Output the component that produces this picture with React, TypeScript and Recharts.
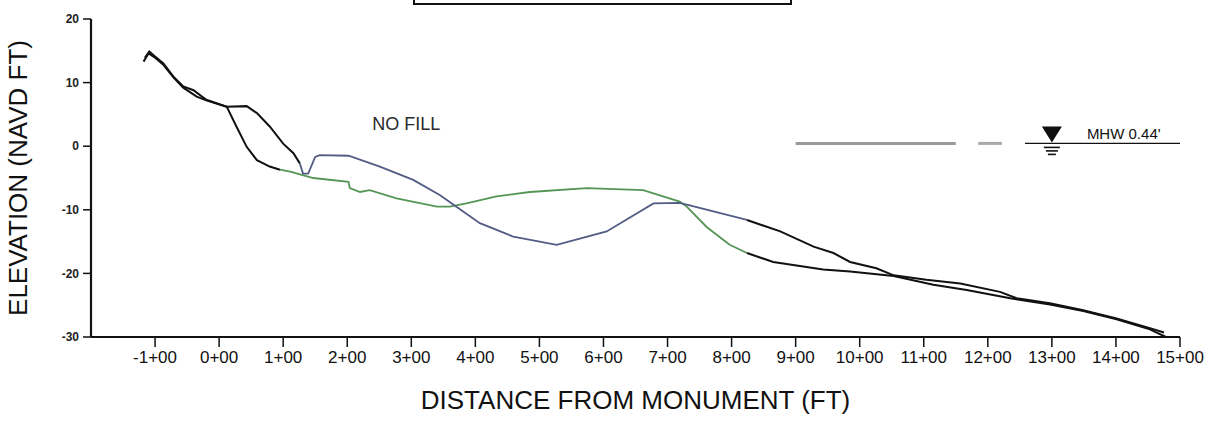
import { LineChart, Line, XAxis, YAxis, ReferenceDot, Label } from "recharts";

const X_TICKS = [-100, 0, 100, 200, 300, 400, 500, 600, 700, 800, 900, 1000, 1100, 1200, 1300, 1400, 1500];
const Y_TICKS = [-30, -20, -10, 0, 10, 20];

// profile A: takes the low route past 1+00, green through the middle
const A_DIST = [-118, -110, -100, -87, -71, -56, -35, -20, 12, 27, 43, 59, 79, 95, 111, 147, 202, 204, 220, 235, 277, 340, 360, 386, 433, 485, 574, 662, 719, 730, 761, 797, 824, 865, 943, 985, 1053, 1115, 1167, 1235, 1297, 1349, 1401, 1453, 1478];
const A_ELEV = [13.3, 14.6, 13.9, 12.8, 10.8, 9.2, 7.8, 7.2, 6.2, 3.1, -0.1, -2.2, -3.2, -3.7, -4.0, -5.0, -5.6, -6.6, -7.2, -6.9, -8.2, -9.5, -9.5, -9.0, -7.9, -7.2, -6.6, -6.9, -8.7, -9.5, -12.7, -15.5, -16.8, -18.2, -19.4, -19.7, -20.4, -21.8, -22.6, -23.9, -24.9, -25.9, -27.2, -28.8, -30.0];

// profile B: stays high to 0+40, dips at 1+35, blue through the middle
const B_DIST = [-116, -109, -100, -87, -71, -56, -40, -20, 12, 43, 59, 79, 100, 116, 126, 131, 139, 150, 157, 202, 251, 303, 345, 366, 407, 459, 527, 605, 678, 719, 730, 824, 876, 928, 959, 985, 1026, 1053, 1104, 1157, 1219, 1245, 1297, 1349, 1401, 1453, 1475];
const B_ELEV = [13.9, 14.9, 14.1, 13.0, 10.9, 9.4, 8.8, 7.3, 6.2, 6.3, 5.2, 3.1, 0.4, -1.1, -2.7, -4.3, -4.3, -1.7, -1.4, -1.5, -3.2, -5.3, -7.7, -9.2, -12.1, -14.2, -15.5, -13.4, -9.0, -8.9, -9.2, -11.6, -13.4, -15.8, -16.8, -18.2, -19.2, -20.3, -21.0, -21.6, -22.9, -23.9, -24.7, -25.8, -27.1, -28.6, -29.3];

const MHW = 0.44;
const MHW_GREY = [900, 1150];
const MHW_DASH = [1185, 1222];
const MHW_RULE = [1258, 1500];
const MHW_MARK = 1300;

const BLACK = "#111";
const GREEN = "#559556";
const BLUE = "#525c84";

const A_PARTS = [
  { from: -200, to: 95, color: BLACK },
  { from: 95, to: 824, color: GREEN },
  { from: 824, to: 1500, color: BLACK },
];
const B_PARTS = [
  { from: -200, to: 126, color: BLACK },
  { from: 126, to: 824, color: BLUE },
  { from: 824, to: 1500, color: BLACK },
];

const toPts = (dist: number[], elev: number[]) => dist.map((d, i) => ({ d, v: elev[i] }));
const level = (xs: number[]) => xs.map((d) => ({ d, v: MHW }));

const ptsA = toPts(A_DIST, A_ELEV);
const ptsB = toPts(B_DIST, B_ELEV);

const station = (v: number) => {
  const a = Math.abs(v);
  return `${v < 0 ? "-" : ""}${Math.floor(a / 100)}+${String(a % 100).padStart(2, "0")}`;
};

const FONT = "'Liberation Sans', Arial, sans-serif";

const MhwMark = ({ cx, cy }: any) => (
  <g>
    <path d={`M${cx - 10},${cy - 17} L${cx + 10},${cy - 17} L${cx},${cy - 1} Z`} fill={BLACK} />
    <line x1={cx - 8} x2={cx + 8} y1={cy + 4} y2={cy + 4} stroke={BLACK} strokeWidth={1.6} />
    <line x1={cx - 6} x2={cx + 6} y1={cy + 7.5} y2={cy + 7.5} stroke={BLACK} strokeWidth={1.6} />
    <line x1={cx - 4} x2={cx + 4} y1={cy + 11} y2={cy + 11} stroke={BLACK} strokeWidth={1.6} />
    <text x={cx + 35} y={cy - 4} fontSize={15} fontFamily={FONT} fill={BLACK}>
      MHW 0.44'
    </text>
  </g>
);

const NoFill = ({ cx, cy }: any) => (
  <text x={cx} y={cy} fontSize={18} fontFamily={FONT} fill="#2a2a2a">
    NO FILL
  </text>
);

export default function App() {
  const parts = [
    ...A_PARTS.map((p) => ({ ...p, data: ptsA.filter((q) => q.d >= p.from && q.d <= p.to) })),
    ...B_PARTS.map((p) => ({ ...p, data: ptsB.filter((q) => q.d >= p.from && q.d <= p.to) })),
  ];

  return (
    <div style={{ position: "absolute", left: 0, top: 0, width: 1215, height: 423, background: "#fff" }}>
      <div
        style={{
          position: "absolute",
          left: 413,
          top: -20,
          width: 375,
          height: 21,
          border: "2px solid #111",
        }}
      />
      <LineChart width={1215} height={423} margin={{ top: 19, right: 35, left: 0, bottom: 0 }}>
        <XAxis
          type="number"
          dataKey="d"
          domain={[-200, 1500]}
          ticks={X_TICKS}
          tickFormatter={station}
          allowDataOverflow
          height={86}
          axisLine={{ stroke: BLACK, strokeWidth: 2 }}
          tickLine={{ stroke: BLACK, strokeWidth: 1.5 }}
          tickSize={10}
          tickMargin={4}
          tick={{ fontSize: 17, fill: BLACK, fontFamily: FONT }}
        >
          <Label
            content={({ viewBox }: any) => (
              <text x={viewBox.x + viewBox.width / 2} y={409} textAnchor="middle" fontSize={26} fontFamily={FONT} fill={BLACK}>
                DISTANCE FROM MONUMENT (FT)
              </text>
            )}
          />
        </XAxis>
        <YAxis
          type="number"
          domain={[-30, 20]}
          ticks={Y_TICKS}
          allowDataOverflow
          width={91}
          axisLine={{ stroke: BLACK, strokeWidth: 2.2 }}
          tickLine={{ stroke: BLACK, strokeWidth: 1.5 }}
          tickSize={8}
          tickMargin={4}
          tick={{ fontSize: 12, fill: "#222", fontFamily: FONT, fontWeight: 600 }}
        >
          <Label
            content={({ viewBox }: any) => {
              const cy = viewBox.y + viewBox.height / 2;
              return (
                <text x={27} y={cy} transform={`rotate(-90 27 ${cy})`} textAnchor="middle" fontSize={26} fontFamily={FONT} fill={BLACK}>
                  ELEVATION (NAVD FT)
                </text>
              );
            }}
          />
        </YAxis>

        <Line data={level(MHW_GREY)} dataKey="v" stroke="#9a9a9a" strokeWidth={3} dot={false} isAnimationActive={false} />
        <Line data={level(MHW_DASH)} dataKey="v" stroke="#a8a8a8" strokeWidth={3} dot={false} isAnimationActive={false} />
        <Line data={level(MHW_RULE)} dataKey="v" stroke={BLACK} strokeWidth={1.2} dot={false} isAnimationActive={false} />

        {parts.map((p, i) => (
          <Line
            key={i}
            data={p.data}
            dataKey="v"
            type="linear"
            stroke={p.color}
            strokeWidth={p.color === BLACK ? 2 : 1.8}
            dot={false}
            isAnimationActive={false}
          />
        ))}

        <ReferenceDot x={MHW_MARK} y={MHW} r={0} shape={MhwMark} ifOverflow="visible" />
        <ReferenceDot x={239} y={2.5} r={0} shape={NoFill} ifOverflow="visible" />
      </LineChart>
    </div>
  );
}
